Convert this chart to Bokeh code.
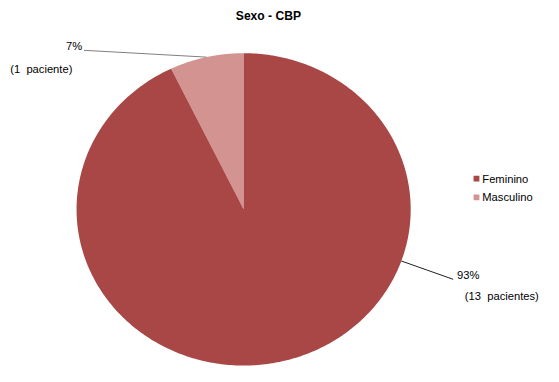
import numpy as np
from bokeh.plotting import figure
from bokeh.models import Range1d, ColumnDataSource
from bokeh.core.properties import value
from bokeh.embed import file_html
from bokeh.resources import INLINE

# ---- data ----
title = "Sexo - CBP"
categories = ["Feminino", "Masculino"]
counts = [13, 1]
patient_labels = ["(13\u00a0 pacientes)", "(1\u00a0 paciente)"]
colors = ["#A84745", "#D39391"]

# ---- layout (reference pixel coordinates, 559x382 canvas scaled into figure) ----
REF_W, REF_H = 559, 382
W, H = 543, 366
S = W / REF_W
CX, CY, RX, RY = 250.3, 218.0, 172.0, 163.0
FONT = "Liberation Sans"

def dx(px):
    return (px - CX) / RX

def dy(py):
    return (CY - py) / RY

def fs(v):
    return f"{v * S:.1f}px"

p = figure(width=W, height=H, output_backend="svg", toolbar_location=None,
           x_axis_type=None, y_axis_type=None, min_border=0,
           x_range=Range1d(dx(0), dx(REF_W)), y_range=Range1d(dy(REF_H), dy(0)))
p.outline_line_color = None
p.grid.visible = False
p.background_fill_color = "white"

total = sum(counts)
fracs = [c / total for c in counts]
pct_labels = [f"{round(f * 100)}%" for f in fracs]

# Masculino starts at 12 o'clock going counter-clockwise, Feminino follows
order = [1, 0]
start = np.pi / 2
xs, ys, fills, mids = [], [], [], {}
for i in order:
    span = fracs[i] * 2 * np.pi
    t = np.linspace(start, start + span, 400)
    xs.append(np.concatenate([[0], np.cos(t), [0]]))
    ys.append(np.concatenate([[0], np.sin(t), [0]]))
    fills.append(colors[i])
    mids[i] = start + span / 2
    start += span

p.patches(xs, ys, fill_color=fills, line_color=None)

# leader lines
m = mids[1]
p.line([dx(86), np.cos(m)], [dy(52), np.sin(m)], line_color="#808080", line_width=1)
a93 = np.deg2rad(-19.3)
p.line([dx(466), np.cos(a93)], [dy(291), np.sin(a93)], line_color="#202020", line_width=1)

# data labels
tf = dict(text_font=value(FONT), text_font_size=fs(11.5), text_color="#000000",
          text_baseline="middle")
p.text(x=[dx(84)], y=[dy(48)], text=[pct_labels[1]], text_align="right", **tf)
p.text(x=[dx(10)], y=[dy(71.5)], text=[patient_labels[1]], text_align="left", **tf)
p.text(x=[dx(470)], y=[dy(287)], text=[pct_labels[0]], text_align="left", **tf)
p.text(x=[dx(478)], y=[dy(308)], text=[patient_labels[0]], text_align="left", **tf)

# title
p.text(x=[dx(275.8)], y=[dy(16)], text=[title], text_align="center",
       text_font=value(FONT), text_font_size=fs(12.5), text_font_style="bold",
       text_baseline="middle", text_color="#000000")

# legend
leg = ColumnDataSource(dict(x=[dx(490)] * 2, y=[dy(186), dy(205.5)],
                            tx=[dx(496)] * 2, lab=categories, c=colors))
p.rect(x="x", y="y", width=6 * S, height=6 * S, width_units="screen", height_units="screen",
       fill_color="c", line_color=None, source=leg)
p.text(x="tx", y="y", text="lab", text_align="left", source=leg, **tf)

open("out.html", "w").write(file_html(p, INLINE))
